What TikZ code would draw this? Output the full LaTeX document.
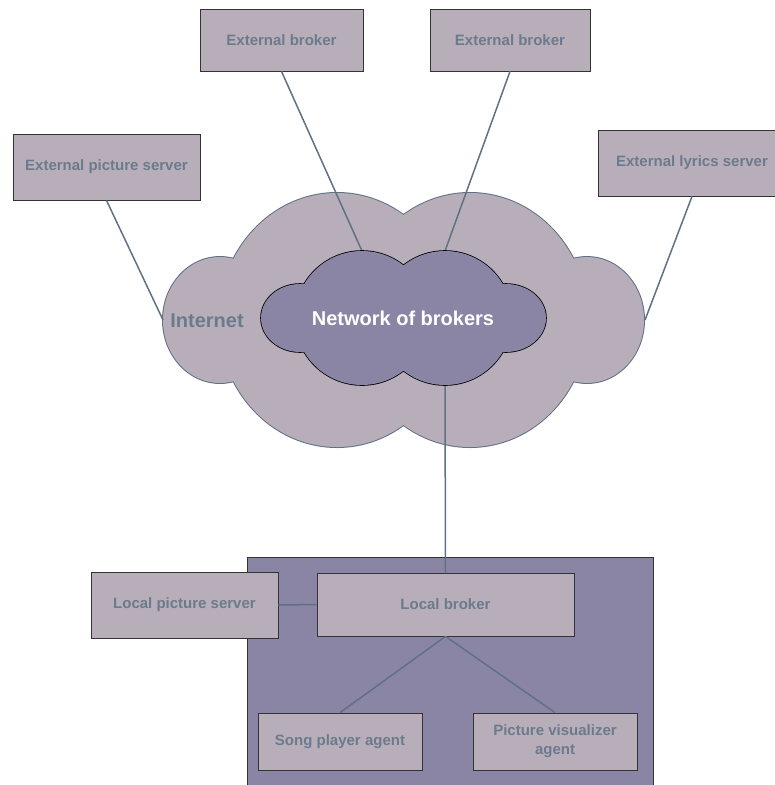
\documentclass[tikz,border=0pt]{standalone}
\usepackage{fontspec}
\setmainfont{Liberation Sans}
\definecolor{boxfill}{HTML}{B8AEB9}
\definecolor{purp}{HTML}{8B85A5}
\definecolor{slate}{HTML}{5F7183}
\definecolor{txt}{HTML}{6B7B8D}
\definecolor{boxline}{HTML}{333333}
\begin{document}
\begin{tikzpicture}[x=1pt,y=-1pt,
  box/.style={rectangle, draw=boxline, line width=0.8pt, fill=boxfill, text=txt,
    font=\bfseries\fontsize{15}{19}\selectfont, inner sep=0pt, align=center},
  conn/.style={draw=slate, line width=1.5pt},
  bigtext/.style={font=\bfseries\fontsize{20}{24}\selectfont, inner sep=0pt}]
\useasboundingbox (0,0) rectangle (775,785);
\clip (0,0) rectangle (775,785);
% local environment
\path[fill=purp, draw=boxline, line width=0.8pt] (247,557) rectangle (653,800);
% Internet cloud
\path[fill=boxfill, preaction={draw=slate, line width=2pt}]
  (220,320) ellipse [x radius=57, y radius=63]
  (587,320) ellipse [x radius=57, y radius=63]
  (337,320) ellipse [x radius=118, y radius=127]
  (470,320) ellipse [x radius=118, y radius=127];
% boxes
\node[box, minimum width=163pt, minimum height=62pt] (eb1) at (281.5,40) {External broker};
\node[box, minimum width=160pt, minimum height=62pt] (eb2) at (510,40) {External broker};
\node[box, minimum width=187pt, minimum height=66pt] (eps) at (106.5,167) {External picture server};
\node[box, minimum width=188pt, minimum height=66pt] (els) at (692,163) {External lyrics server};
\node[box, minimum width=187pt, minimum height=66pt] (lps) at (184.5,605) {Local picture server};
\node[box, minimum width=257pt, minimum height=63pt] (lb) at (445.5,604.5) {Local broker};
\node[box, minimum width=164pt, minimum height=57pt] (spa) at (340,741.5) {Song player agent};
\node[box, minimum width=164pt, minimum height=57pt] (pva) at (555,741.5) {Picture visualizer\\agent};
% attachment points on the clouds
\coordinate (c1) at (362,251);
\coordinate (c2) at (445,251);
\coordinate (c3) at (163,320);
\coordinate (c4) at (645,320);
\coordinate (c5) at (445,385);
% connectors
\draw[conn] (eb1.south) -- (c1);
\draw[conn] (eb2.south) -- (c2);
\draw[conn] (eps.south) -- (c3);
\draw[conn] (els.south) -- (c4);
\draw[conn] (c5) -- (lb.north);
\draw[conn] (lps.east) -- (lb.west);
\draw[conn] (lb.south) -- (spa.north);
\draw[conn] (lb.south) -- (pva.north);
% network of brokers cloud
\path[fill=purp, preaction={draw=black, line width=1.6pt}]
  (300,318) ellipse [x radius=39, y radius=34]
  (506,318) ellipse [x radius=40, y radius=34]
  (362,318) circle [radius=67]
  (445,318) circle [radius=67];
\node[bigtext, text=txt] (inet) at (207,321) {Internet};
\node[bigtext, text=white] (nob) at (403,318) {Network of brokers};
\end{tikzpicture}
\end{document}
